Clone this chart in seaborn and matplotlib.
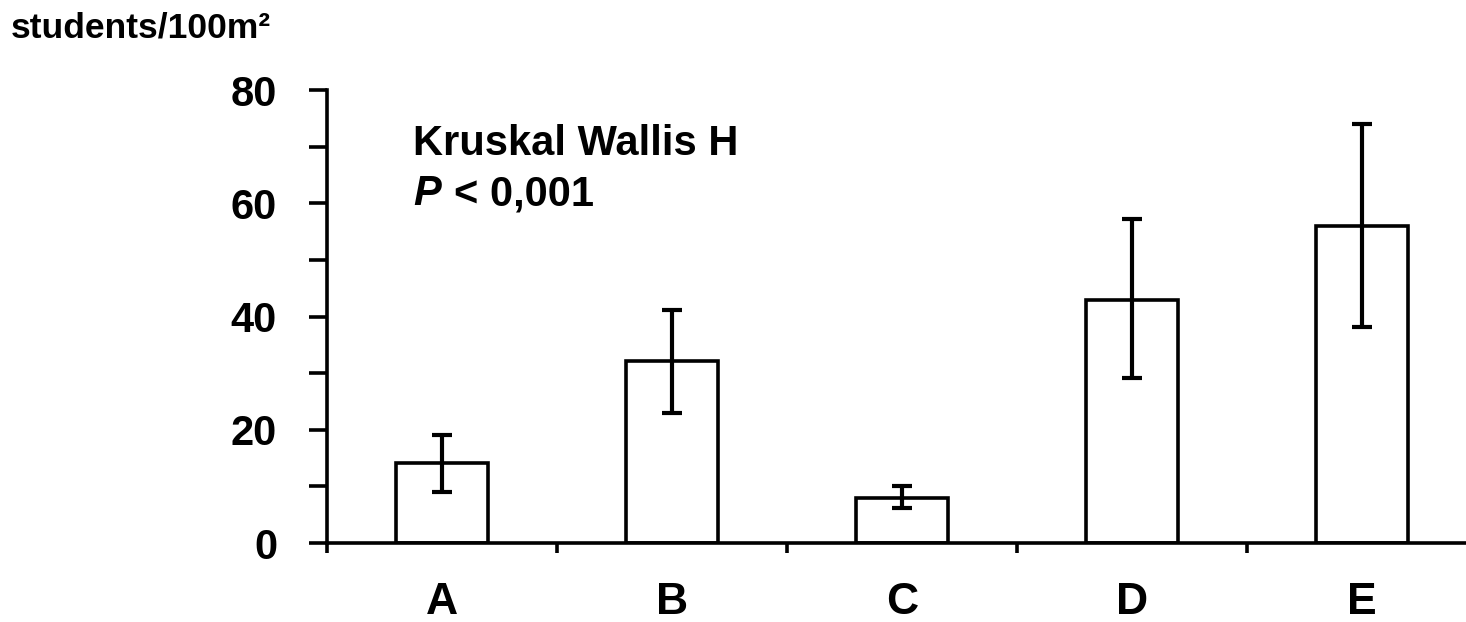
import matplotlib
matplotlib.use("Agg")
import matplotlib.pyplot as plt
import seaborn as sns
import numpy as np
import pandas as pd
from matplotlib.ticker import MultipleLocator, FixedLocator

categories = ["A", "B", "C", "D", "E"]
means = [14.1, 32.1, 7.9, 43.0, 56.0]
err_low = [9.0, 23.0, 6.2, 29.1, 38.2]
err_high = [19.1, 41.1, 10.1, 57.2, 74.0]
y_ticks = [0, 20, 40, 60, 80]

sns.set_theme(style="ticks")
plt.rcParams['font.family'] = ['Liberation Sans', 'DejaVu Sans']
plt.rcParams['font.weight'] = 'bold'
for k in ['text.color', 'axes.labelcolor', 'xtick.color', 'ytick.color', 'axes.edgecolor']:
    plt.rcParams[k] = 'black'

fig = plt.figure(figsize=(14.66, 6.22), dpi=100)
ax = fig.add_axes([0.2231, 0.127, 0.7769, 0.7283])

df = pd.DataFrame({"cat": categories, "val": means})
sns.barplot(data=df, x="cat", y="val", ax=ax, color="white", edgecolor="black",
            linewidth=2.6, width=0.4, errorbar=None, saturation=1)

x = np.arange(len(categories))
m = np.array(means)
yerr = np.vstack([m - np.array(err_low), np.array(err_high) - m])
ax.errorbar(x, m, yerr=yerr, fmt="none", ecolor="black", elinewidth=3,
            capsize=7.5, capthick=3)

ax.set_xlim(-0.5, 4.452)
ax.set_ylim(0, 80)
for s in ["top", "right"]:
    ax.spines[s].set_visible(False)
for s in ["left", "bottom"]:
    ax.spines[s].set_linewidth(2.6)
    ax.spines[s].set_color("black")

ax.set_yticks(y_ticks)
ax.set_yticklabels([str(v) for v in y_ticks], fontsize=30, fontweight="bold")
ax.yaxis.set_minor_locator(MultipleLocator(10))
ax.tick_params(axis="y", which="both", direction="out", length=13, width=2.6,
               color="black", pad=23)

ax.set_xticks(x)
ax.set_xticklabels(categories, fontsize=32, fontweight="bold")
ax.xaxis.set_minor_locator(FixedLocator([-0.5, 0.5, 1.5, 2.5, 3.5]))
ax.tick_params(axis="x", which="major", length=0, pad=28)
ax.tick_params(axis="x", which="minor", direction="out", length=7, width=2.6, color="black")
ax.set_xlabel("")
ax.set_ylabel("")

ax.text(0.0755, 0.8565, "Kruskal Wallis H", transform=ax.transAxes, fontsize=30,
        fontweight="bold", va="baseline", ha="left")
ax.text(0.0755, 0.746, "P", transform=ax.transAxes, fontsize=30,
        fontweight="bold", fontstyle="italic", va="baseline", ha="left")
ax.text(0.1115, 0.746, "< 0,001", transform=ax.transAxes, fontsize=30,
        fontweight="bold", va="baseline", ha="left")

fig.text(0.007, 0.9405, "students/100m²", fontsize=25.5, fontweight="bold",
         va="baseline", ha="left")

fig.savefig("out.png", dpi=100, facecolor="white")
